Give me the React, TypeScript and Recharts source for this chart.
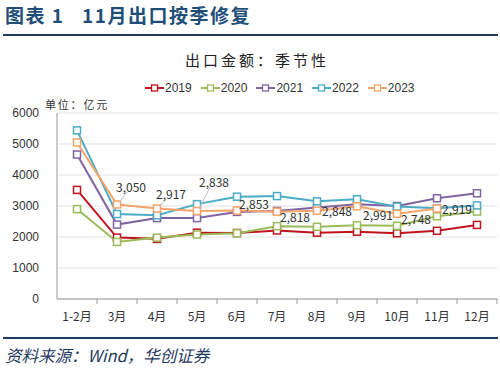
import React from 'react';
import { LineChart, Line, XAxis, YAxis, CartesianGrid } from 'recharts';

const months = ['1-2月', '3月', '4月', '5月', '6月', '7月', '8月', '9月', '10月', '11月', '12月'];
const y2019 = [3520, 1980, 1940, 2140, 2130, 2210, 2140, 2170, 2120, 2200, 2390];
const y2020 = [2900, 1840, 1980, 2080, 2120, 2350, 2330, 2380, 2360, 2670, 2820];
const y2021 = [4660, 2400, 2610, 2610, 2810, 2840, 2950, 3060, 3000, 3250, 3410];
const y2022 = [5440, 2740, 2700, 3060, 3300, 3320, 3150, 3220, 2980, 2930, 3020];
const y2023 = [5050, 3050, 2917, 2838, 2853, 2818, 2848, 2991, 2748, 2919, null];
const yTicks = [0, 1000, 2000, 3000, 4000, 5000, 6000];

// label offsets for the 2023 values (index -> dx, dy, leader line)
const labelOffsets: Record<number, [number, number, boolean]> = {
  1: [14, -16, true],
  2: [14, -14, true],
  3: [17, -28, true],
  4: [17, -6, false],
  5: [18, 6, false],
  6: [20, 1, false],
  7: [21, 10, true],
  8: [19, 6, false],
  9: [20, 1, false],
};

const data = months.map((m, i) => ({
  month: m,
  y2019: y2019[i],
  y2020: y2020[i],
  y2021: y2021[i],
  y2022: y2022[i],
  y2023: y2023[i],
}));

const series = [
  { key: 'y2019', name: '2019', color: '#C0151E' },
  { key: 'y2020', name: '2020', color: '#9BBB59' },
  { key: 'y2021', name: '2021', color: '#8064A2' },
  { key: 'y2022', name: '2022', color: '#4BACC6' },
  { key: 'y2023', name: '2023', color: '#F7A46A' },
];

const HALF_BAND = 20;
const TICK_GAP = 14; // tickSize (6) + tickMargin (8)

const SquareDot = (color: string) => (props: any) => {
  const { cx, cy, value } = props;
  if (value == null || cx == null) return <g key={props.index} />;
  return <rect key={props.index} x={cx - 3.5} y={cy - 3.5} width={7} height={7} fill="#fff" stroke={color} strokeWidth={1.5} />;
};

const MonthTick = (props: any) => {
  const { x, y, payload } = props;
  const axisY = y - TICK_GAP;
  return (
    <g>
      <line x1={x + HALF_BAND} y1={axisY} x2={x + HALF_BAND} y2={axisY + 5} stroke="#999" />
      <text x={x} y={y + 8} textAnchor="middle" fontSize={12} fill="#333" fontFamily="'Noto Sans CJK SC', sans-serif">
        {payload.value}
      </text>
    </g>
  );
};

const ValueLabel = (props: any) => {
  const { x, y, value, index } = props;
  const off = labelOffsets[index];
  if (!off || value == null) return null;
  const [dx, dy, leader] = off;
  const txt = Number(value).toLocaleString('en-US');
  return (
    <g>
      {leader && <line x1={x + 2} y1={y - 2} x2={x + dx - 4} y2={y + dy + 4} stroke="#bbb" strokeWidth={1} />}
      <text x={x + dx} y={y + dy} dy={4} textAnchor="middle" fontSize={12} fill="#333" fontFamily="'Noto Sans CJK SC', sans-serif">
        {txt}
      </text>
    </g>
  );
};

export default function App() {
  return (
    <div style={{ position: 'fixed', left: 0, top: 0, width: 500, height: 368, background: '#fff', fontFamily: "'Noto Sans CJK SC', sans-serif" }}>
      <div style={{ position: 'absolute', left: 5, top: 1, fontSize: 19, fontWeight: 700, color: '#1F4E79', letterSpacing: 1.5, whiteSpace: 'nowrap' }}>
        图表 1&nbsp;&nbsp;&nbsp;11月出口按季修复
      </div>
      <div style={{ position: 'absolute', left: 3, top: 34, width: 495, height: 2, background: '#1F3A5F' }} />
      <div style={{ position: 'absolute', left: 0, top: 49, width: 514, textAlign: 'center', fontSize: 15, color: '#222', letterSpacing: 3 }}>
        出口金额：季节性
      </div>
      <div style={{ position: 'absolute', left: 145, top: 81, display: 'flex', fontSize: 12, fontFamily: "'Liberation Sans', Arial, sans-serif", color: '#333' }}>
        {series.map((s) => (
          <div key={s.key} style={{ display: 'flex', alignItems: 'center', marginRight: 9 }}>
            <svg width={19} height={14}>
              <line x1={0} y1={7} x2={19} y2={7} stroke={s.color} strokeWidth={2} />
              <rect x={6.5} y={4} width={6} height={6} fill="#fff" stroke={s.color} strokeWidth={1.3} />
            </svg>
            <span style={{ marginLeft: 1 }}>{s.name}</span>
          </div>
        ))}
      </div>
      <div style={{ position: 'absolute', left: 45, top: 96, fontSize: 11, color: '#333', letterSpacing: 1.8 }}>单位：亿元</div>
      <div style={{ position: 'absolute', top: 0, left: 0 }}>
        <LineChart width={500} height={368} data={data} margin={{ top: 113, right: 3, left: 0, bottom: 39 }}>
          <CartesianGrid vertical={false} stroke="#e3e3e3" />
          <XAxis
            dataKey="month"
            stroke="#999"
            tickLine={false}
            tickSize={6}
            interval={0}
            height={30}
            padding={{ left: HALF_BAND, right: HALF_BAND }}
            tick={<MonthTick />}
            tickMargin={8}
          />
          <YAxis
            domain={[0, 6000]}
            ticks={yTicks}
            width={57}
            stroke="#999"
            tickLine={false}
            tick={{ fill: '#333', fontSize: 12, fontFamily: "'Liberation Sans', Arial, sans-serif" }}
            tickMargin={12}
          />
          {series.map((s) => (
            <Line
              key={s.key}
              dataKey={s.key}
              name={s.name}
              stroke={s.color}
              strokeWidth={2}
              dot={SquareDot(s.color)}
              activeDot={false}
              isAnimationActive={false}
              connectNulls={false}
              label={s.key === 'y2023' ? <ValueLabel /> : undefined}
            />
          ))}
        </LineChart>
      </div>
      <div style={{ position: 'absolute', left: 3, top: 337, width: 495, height: 2, background: '#1F3A5F' }} />
      <div style={{ position: 'absolute', left: 5, top: 343, fontSize: 16.5, fontStyle: 'italic', color: '#1F3A5F' }}>
        资料来源：Wind，华创证券
      </div>
    </div>
  );
}
